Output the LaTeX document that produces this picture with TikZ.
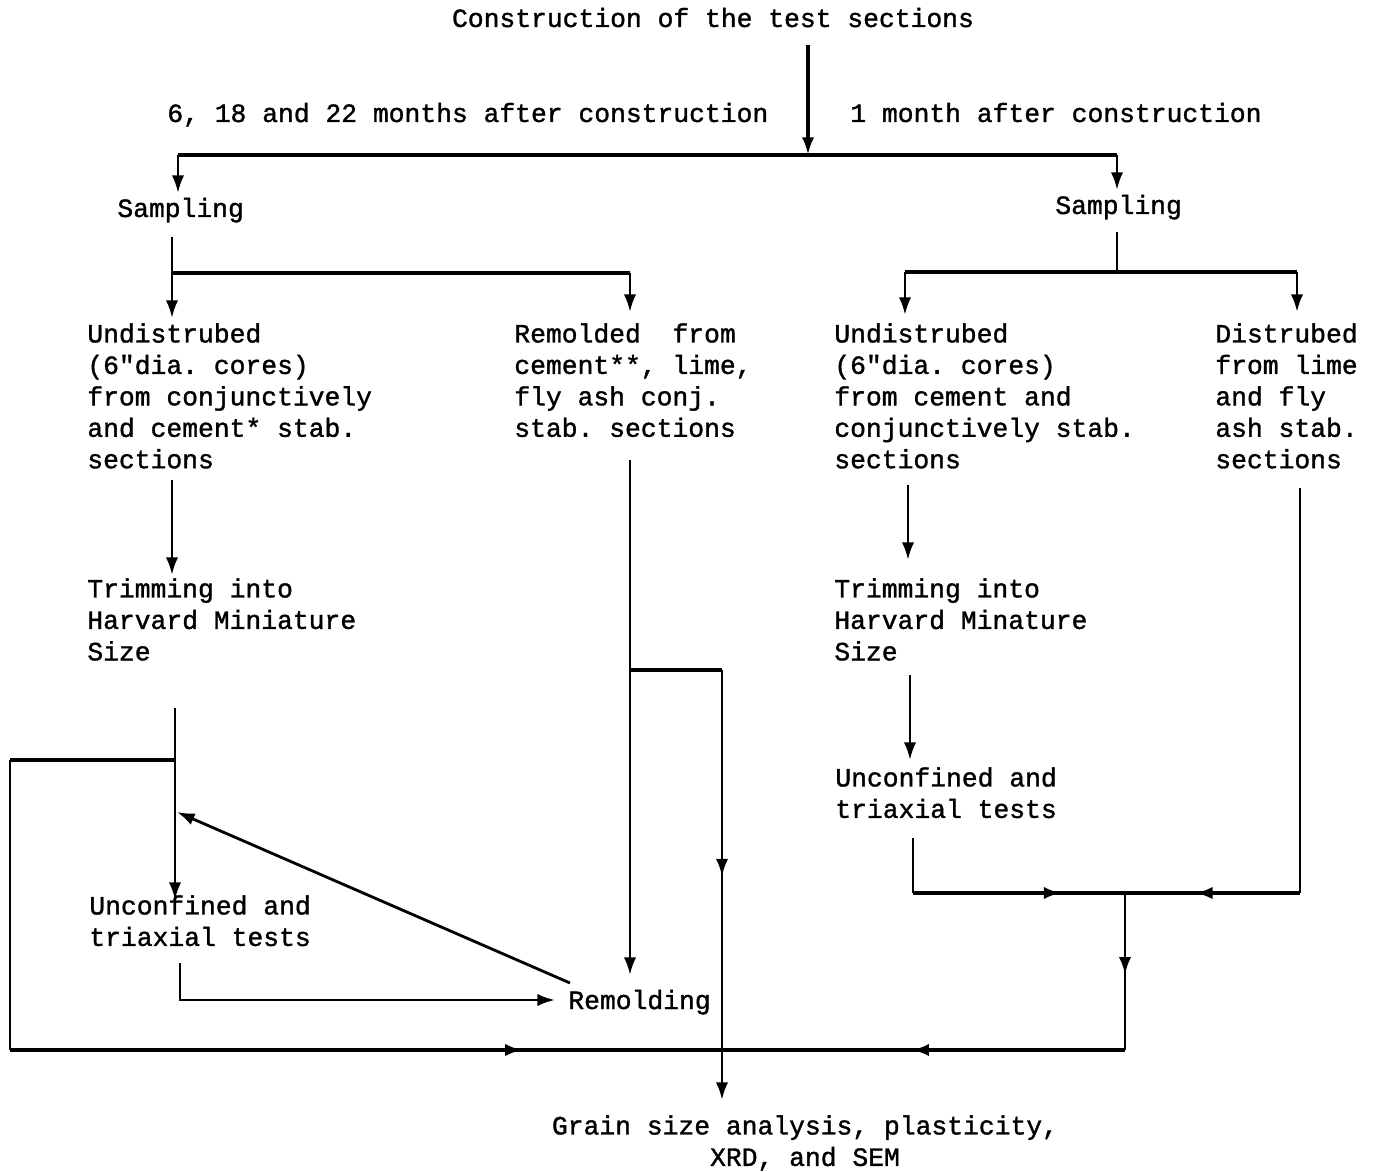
\documentclass[tikz,border=0pt]{standalone}
\usepackage{fontspec}
\setmonofont{Liberation Mono}[FakeBold=1.3]
\usetikzlibrary{arrows.meta,decorations.markings}

\begin{document}
\begin{tikzpicture}[x=0.02cm,y=-0.02cm,
	txt/.style={anchor=north west, inner sep=0pt, align=left, font=\ttfamily\fontsize{15}{17.9}\selectfont},
	one/.style={anchor=base west, inner sep=0pt, font=\ttfamily\fontsize{15}{17.9}\selectfont},
	line/.style={line width=1.6pt, line join=miter},
	bar/.style={line width=2.2pt},
	midarrow/.style={postaction={decorate,decoration={markings,mark=at position #1 with {\arrow{>}}}}},
	>={Latex[length=10pt,width=7pt]}]
	\useasboundingbox (0,0) rectangle (1379,1172);

	\node[one, anchor=base] at (713,27) (constr) {Construction of the test sections};
	\node[one] at (167,122) (later) {6, 18 and 22 months after construction};
	\node[one] at (850,122) (early) {1 month after construction};
	\node[one] at (117,217) (sampL) {Sampling};
	\node[one] at (1055,214) (sampR) {Sampling};
	\node[txt] at (87,323) (undL) {Undistrubed\\(6"dia. cores)\\from conjunctively\\and cement* stab.\\sections};
	\node[txt] at (514,323) (remd) {Remolded\ \ from\\cement**, lime,\\fly ash conj.\\stab. sections};
	\node[txt] at (834,323) (undR) {Undistrubed\\(6"dia. cores)\\from cement and\\conjunctively stab.\\sections};
	\node[txt] at (1215,323) (disR) {Distrubed\\from lime\\and fly\\ash stab.\\sections};
	\node[txt] at (87,578) (trimL) {Trimming into\\Harvard Miniature\\Size};
	\node[txt] at (834,578) (trimR) {Trimming into\\Harvard Minature\\Size};
	\node[txt] at (89,895) (testL) {Unconfined and\\triaxial tests};
	\node[txt] at (835,767) (testR) {Unconfined and\\triaxial tests};
	\node[one] at (568,1009) (remolding) {Remolding};
	\node[txt, anchor=north, align=center] at (805,1115) (grain) {Grain size analysis, plasticity,\\XRD, and SEM};

	% junctions
	\coordinate (c0) at (808,45);   \coordinate (j0) at (808,155);
	\coordinate (jL) at (178,155);  \coordinate (jR) at (1117,155);
	\coordinate (sL) at (178,193);  \coordinate (sR) at (1117,190);
	\coordinate (a1) at (172,237);  \coordinate (a2) at (172,273);
	\coordinate (a3) at (172,318);  \coordinate (b2) at (630,273);
	\coordinate (b3) at (630,312);
	\coordinate (d1) at (1117,232); \coordinate (d2) at (1117,272);
	\coordinate (e1) at (905,272);  \coordinate (e2) at (905,315);
	\coordinate (f1) at (1297,272); \coordinate (f2) at (1297,312);
	\coordinate (g1) at (172,480);  \coordinate (g2) at (172,575);
	\coordinate (h1) at (175,708);  \coordinate (h2) at (175,760);
	\coordinate (h3) at (175,900);  \coordinate (h4) at (177,812);
	\coordinate (l1) at (10,760);   \coordinate (l2) at (10,1050);
	\coordinate (r1) at (570,983);
	\coordinate (t1) at (180,963);  \coordinate (t2) at (180,1000);
	\coordinate (t3) at (555,1000);
	\coordinate (m1) at (630,460);  \coordinate (m2) at (630,670);
	\coordinate (m3) at (630,975);
	\coordinate (n1) at (722,670);  \coordinate (n2) at (722,1050);
	\coordinate (n3) at (722,1100);
	\coordinate (p1) at (908,485);  \coordinate (p2) at (908,560);
	\coordinate (q1) at (910,675);  \coordinate (q2) at (910,760);
	\coordinate (u1) at (913,838);  \coordinate (u2) at (913,893);
	\coordinate (v1) at (1300,488); \coordinate (v2) at (1300,893);
	\coordinate (k) at (1125,893);  \coordinate (k2) at (1125,1050);

	% top split
	\draw[bar,->] (c0) -- (j0);
	\draw[bar] (jL) -- (jR);
	\draw[line,->] (jL) -- (sL);
	\draw[line,->] (jR) -- (sR);

	% left branch
	\draw[line,->] (a1) -- (a3);
	\draw[bar] (a2) -- (b2);
	\draw[line,->] (b2) -- (b3);
	\draw[line,->] (g1) -- (g2);
	\draw[line,->] (h1) -- (h3);
	\draw[bar] (h2) -- (l1);
	\draw[line] (l1) -- (l2);
	\draw[line,->] (r1) -- (h4);
	\draw[line,->] (t1) -- (t2) -- (t3);
	\draw[line,->] (m1) -- (m3);
	\draw[bar] (m2) -- (n1);
	\draw[line,->,midarrow=0.48] (n1) -- (n3);

	% right branch
	\draw[line] (d1) -- (d2);
	\draw[bar] (e1) -- (f1);
	\draw[line,->] (e1) -- (e2);
	\draw[line,->] (f1) -- (f2);
	\draw[line,->] (p1) -- (p2);
	\draw[line,->] (q1) -- (q2);
	\draw[line] (u1) -- (u2);
	\draw[line] (v1) -- (v2);
	\draw[bar,midarrow=0.70] (u2) -- (k);
	\draw[bar,midarrow=0.60] (v2) -- (k);
	\draw[line,midarrow=0.52] (k) -- (k2);

	% bottom return
	\draw[bar,midarrow=0.72] (l2) -- (n2);
	\draw[bar,midarrow=0.53] (k2) -- (n2);
\end{tikzpicture}
\end{document}
